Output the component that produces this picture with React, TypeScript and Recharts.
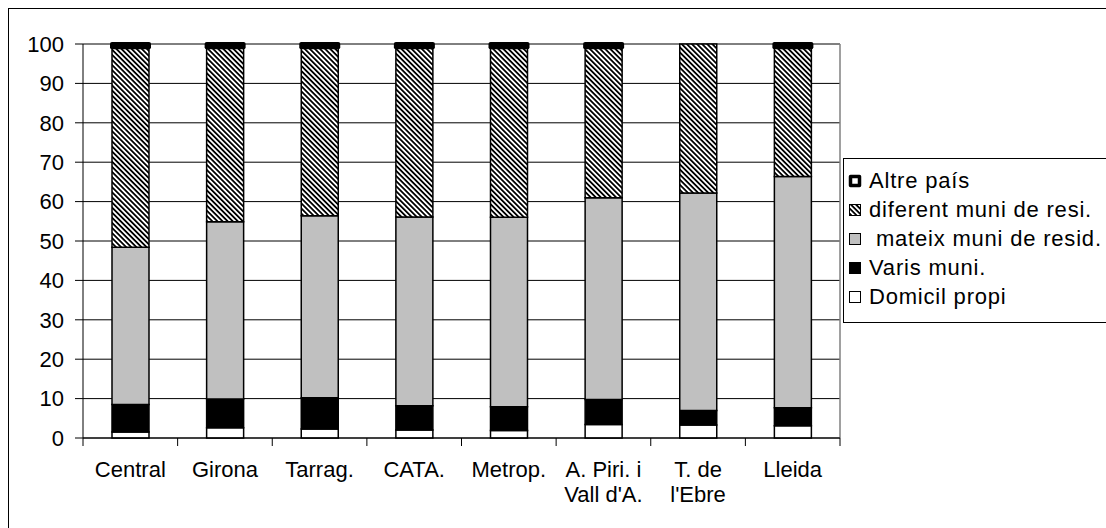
import { BarChart, Bar, XAxis, YAxis, CartesianGrid, Legend } from "recharts";

const categories = ["Central", "Girona", "Tarrag.", "CATA.", "Metrop.", "A. Piri. i\nVall d'A.", "T. de\nl'Ebre", "Lleida"];
const domicilPropi = [1.5, 2.6, 2.3, 2.0, 1.9, 3.4, 3.3, 3.1];
const varisMuni = [7.0, 7.3, 7.9, 6.2, 6.0, 6.4, 3.7, 4.6];
const mateixMuni = [39.9, 45.0, 46.2, 47.9, 48.1, 51.2, 55.2, 58.7];
const diferentMuni = [50.8, 44.3, 42.8, 43.1, 43.2, 38.2, 37.8, 32.8];
const altrePais = [0.8, 0.8, 0.8, 0.8, 0.8, 0.8, 0, 0.8];
const yTicks = [0, 10, 20, 30, 40, 50, 60, 70, 80, 90, 100];

const data = categories.map((name, i) => ({
  name,
  domicil: domicilPropi[i],
  varis: varisMuni[i],
  mateix: mateixMuni[i],
  diferent: diferentMuni[i],
  altre: altrePais[i],
}));

const FONT = "'Liberation Sans', Arial, sans-serif";

// legend order is top of stack first
const legendItems = [
  { key: "altre", label: "Altre país" },
  { key: "diferent", label: "diferent muni de resi." },
  { key: "mateix", label: " mateix muni de resid." },
  { key: "varis", label: "Varis muni." },
  { key: "domicil", label: "Domicil propi" },
];

// label + tick marks on the category boundaries (excel style)
function CategoryTick({ x, y, payload, index, visibleTicksCount, width }: any) {
  const lines = String(payload.value).split("\n");
  const half = payload.offset || width / visibleTicksCount / 2;
  const isLast = index === visibleTicksCount - 1;
  return (
    <g>
      <line x1={x - half} x2={x - half} y1={y} y2={y + 8} stroke="#000" />
      {isLast && <line x1={x + half} x2={x + half} y1={y} y2={y + 8} stroke="#000" />}
      <text x={x} y={y} textAnchor="middle" fontSize={22} fill="#000" fontFamily={FONT}>
        {lines.map((l, i) => (
          <tspan key={i} x={x} dy={i === 0 ? 39 : 25}>
            {l}
          </tspan>
        ))}
      </text>
    </g>
  );
}

function LegendIcon({ k }: { k: string }) {
  let rect;
  if (k === "altre") rect = <rect x={1.5} y={1.5} width={9} height={9} fill="#fff" stroke="#000" strokeWidth={3.5} strokeLinejoin="round" />;
  else if (k === "diferent") rect = <rect x={0.5} y={0.5} width={11} height={11} fill="url(#hatch)" stroke="#000" />;
  else if (k === "mateix") rect = <rect x={0.5} y={0.5} width={11} height={11} fill="#c0c0c0" stroke="#000" />;
  else if (k === "varis") rect = <rect x={0.5} y={0.5} width={11} height={11} fill="#000" stroke="#000" />;
  else rect = <rect x={0.5} y={0.5} width={11} height={11} fill="#fff" stroke="#000" />;
  return (
    <svg width={12} height={12} style={{ display: "block", marginRight: 8, overflow: "visible" }}>
      {rect}
    </svg>
  );
}

function renderLegend() {
  return (
    <div style={{ width: 275, paddingLeft: 3, boxSizing: "border-box" }}>
      <div
        style={{
          width: 272,
          height: 165,
          border: "1px solid #000",
          borderRight: "none",
          background: "#fff",
          boxSizing: "border-box",
          paddingTop: 7,
          paddingLeft: 5,
        }}
      >
        {legendItems.map((it) => (
          <div key={it.key} style={{ display: "flex", alignItems: "center", height: 29 }}>
            <LegendIcon k={it.key} />
            <span
              style={{
                fontFamily: FONT,
                fontSize: 22,
                letterSpacing: 0.8,
                color: "#000",
                whiteSpace: "pre",
                lineHeight: "29px",
              }}
            >
              {it.label}
            </span>
          </div>
        ))}
      </div>
    </div>
  );
}

export default function App() {
  return (
    <div
      style={{
        position: "fixed",
        top: 8,
        left: 8,
        width: 1098,
        height: 520,
        boxSizing: "border-box",
        borderTop: "1px solid #000",
        borderLeft: "1px solid #000",
        overflow: "hidden",
        background: "#fff",
      }}
    >
      <BarChart width={1106} height={519} data={data} margin={{ top: 35, right: 0, bottom: 0, left: 0 }} barSize={37}>
        <defs>
          <pattern id="hatch" width={3.6} height={3.6} patternUnits="userSpaceOnUse" patternTransform="rotate(-45)">
            <rect width={3.6} height={3.6} fill="#fff" />
            <rect width={1.8} height={3.6} fill="#000" />
          </pattern>
        </defs>
        <CartesianGrid vertical={false} stroke="#000" strokeOpacity={1} />
        {/* grey plot-area border on the right */}
        <CartesianGrid
          horizontal={false}
          stroke="#808080"
          strokeWidth={1.5}
          verticalCoordinatesGenerator={({ offset }: any) => [offset.left + offset.width]}
        />
        <XAxis
          dataKey="name"
          interval={0}
          tick={<CategoryTick />}
          tickLine={false}
          tickSize={0}
          tickMargin={0}
          axisLine={{ stroke: "#000", strokeWidth: 1 }}
          height={90}
        />
        <YAxis
          domain={[0, 100]}
          ticks={yTicks}
          interval={0}
          width={74}
          tickSize={8}
          tickMargin={11}
          axisLine={{ stroke: "#000" }}
          tickLine={{ stroke: "#000" }}
          tick={{ fontSize: 22, fill: "#000", fontFamily: FONT }}
        />
        <Legend layout="vertical" align="right" verticalAlign="top" wrapperStyle={{ top: 149 }} content={renderLegend} />
        <Bar dataKey="domicil" stackId="s" fill="#fff" stroke="#000" strokeWidth={1.5} isAnimationActive={false} />
        <Bar dataKey="varis" stackId="s" fill="#000" stroke="#000" strokeWidth={1.5} isAnimationActive={false} />
        <Bar dataKey="mateix" stackId="s" fill="#c0c0c0" stroke="#000" strokeWidth={1.5} isAnimationActive={false} />
        <Bar dataKey="diferent" stackId="s" fill="url(#hatch)" stroke="#000" strokeWidth={1.5} isAnimationActive={false} />
        <Bar dataKey="altre" stackId="s" fill="#fff" stroke="#000" strokeWidth={4} strokeLinejoin="round" isAnimationActive={false} />
      </BarChart>
    </div>
  );
}
